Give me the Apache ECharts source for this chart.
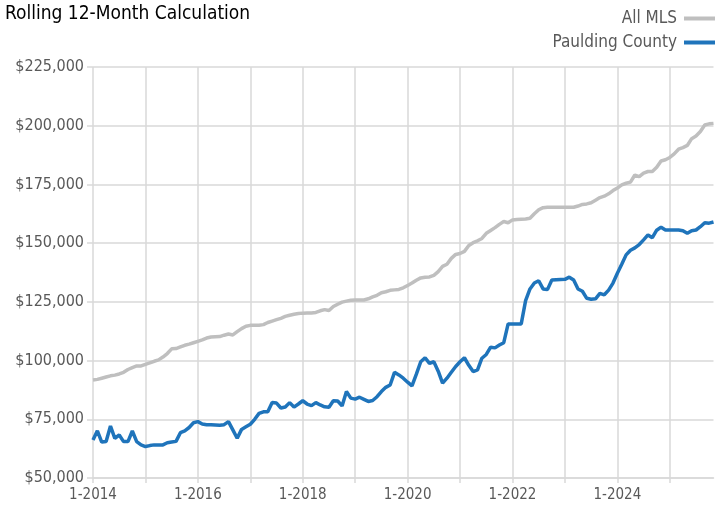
<!DOCTYPE html>
<html>
<head>
<meta charset="utf-8">
<script src="https://cdn.jsdelivr.net/npm/echarts@6/dist/echarts.min.js"></script>
<style>
  html, body { margin: 0; padding: 0; background: #fff; }
  #main { width: 715px; height: 512px; }
</style>
</head>
<body>
<div id="main"></div>
<script>
// monthly, 1-2014 .. 11-2025
var months = [];
for (var y = 2014; y <= 2025; y++) {
  for (var m = 1; m <= 12; m++) {
    if (y === 2025 && m > 11) break;
    months.push(m + '-' + y);
  }
}

var allMls = [
  91700, 92000, 92500, 93000, 93500, 93800, 94300, 95000, 96200, 97000, 97700, 97700,
  98400, 99000, 99700, 100300, 101500, 103000, 105000, 105100, 105800, 106500, 107000, 107600,
  108200, 108800, 109600, 110000, 110100, 110200, 110800, 111300, 110900, 112300, 113600, 114600,
  115000, 115000, 115000, 115300, 116200, 116800, 117400, 118000, 118800, 119300, 119700, 120000,
  120200, 120300, 120300, 120500, 121200, 121700, 121300, 123000, 124000, 124900, 125300, 125700,
  125800, 125800, 125800, 126300, 127100, 127800, 128900, 129300, 129900, 130100, 130300, 131000,
  132000, 133000, 134200, 135200, 135500, 135600, 136300, 137900, 140100, 141000, 143500, 145200,
  145600, 146500, 149000, 150200, 151000, 152000, 154200, 155400, 156600, 158000, 159200, 158700,
  159900, 160100, 160200, 160300, 160600, 162500, 164200, 165100, 165300, 165300, 165300, 165300,
  165300, 165300, 165300, 165800, 166500, 166700, 167200, 168300, 169400, 170000, 171000, 172400,
  173500, 174800, 175500, 176000, 179000, 178300, 179800, 180500, 180500, 182300, 185000, 185500,
  186500, 188000, 190000, 190700, 191600, 194500, 195600, 197500, 200300, 200800, 201000
];

var paulding = [
  66200, 70100, 65300, 65500, 72100, 66900, 68300, 65500, 65500, 70000, 65500, 64100,
  63400, 63800, 64100, 64100, 64100, 65000, 65300, 65600, 69300, 70100, 71500, 73500,
  74000, 73000, 72700, 72700, 72600, 72500, 72700, 74000, 70500, 66900, 70700, 71800,
  72900, 75000, 77500, 78200, 78200, 82100, 81900, 79800, 80200, 82100, 80200, 81500,
  82900, 81500, 80800, 82100, 81100, 80300, 80100, 82900, 82800, 80700, 86800, 84000,
  83600, 84400, 83500, 82600, 83000, 84600, 86800, 88600, 89600, 95000, 93900, 92500,
  90800, 89200, 94200, 99500, 101200, 98800, 99500, 95500, 90400, 92500, 95000, 97500,
  99500, 101200, 98000, 95300, 96000, 101000, 102600, 105700, 105400, 106600, 107600, 115600,
  115600, 115600, 115600, 125500, 130500, 133000, 134000, 130500, 130200, 134300, 134400, 134500,
  134600, 135500, 134300, 130500, 129500, 126500, 126100, 126300, 128600, 128000, 130000, 133000,
  137200, 141000, 145000, 147000, 148000, 149400, 151400, 153500, 152300, 155500, 156800, 155600,
  155600, 155600, 155600, 155300, 154200, 155300, 155600, 157000, 158700, 158500, 159000
];

var yTicks = { min: 50000, max: 225000, step: 25000 };

var font = '"DejaVu Sans Condensed", "Liberation Sans", sans-serif';

var myChart = echarts.init(document.getElementById('main'));
var option = {
  animation: false,
  title: {
    text: 'Rolling 12-Month Calculation',
    left: 0,
    top: 0,
    textStyle: { fontFamily: font, fontSize: 19, fontWeight: 'normal', color: '#000' }
  },
  legend: {
    orient: 'vertical',
    right: 0,
    top: 10,
    padding: 0,
    align: 'right',
    itemWidth: 31,
    itemHeight: 4,
    itemGap: 7,
    icon: 'rect',
    textStyle: { fontFamily: font, fontSize: 17, color: '#595959', padding: [0, 2, 0, 0] },
    data: ['All MLS', 'Paulding County']
  },
  grid: { left: 93, right: 1.5, top: 67, bottom: 34 },
  xAxis: {
    type: 'category',
    data: months,
    boundaryGap: false,
    axisLine: { lineStyle: { color: '#d9d9d9', width: 1.5 } },
    axisTick: { interval: 11, length: 5, lineStyle: { color: '#d9d9d9', width: 1.5 } },
    axisLabel: {
      interval: 23,
      margin: 10,
      fontFamily: font,
      fontSize: 15,
      color: '#595959'
    },
    splitLine: { show: true, interval: 11, lineStyle: { color: '#d9d9d9', width: 1.5 } }
  },
  yAxis: {
    type: 'value',
    min: yTicks.min,
    max: yTicks.max,
    interval: yTicks.step,
    axisLine: { show: false },
    axisTick: { show: true, length: 6, lineStyle: { color: '#d9d9d9', width: 1.5 } },
    axisLabel: {
      margin: 9,
      fontFamily: font,
      fontSize: 16,
      color: '#595959',
      formatter: function (v) { return '$' + v.toLocaleString('en-US'); }
    },
    splitLine: { lineStyle: { color: '#d9d9d9', width: 1.5 } }
  },
  series: [
    {
      name: 'All MLS',
      type: 'line',
      data: allMls,
      showSymbol: false,
      color: '#bfbfbf',
      lineStyle: { width: 3.5, color: '#bfbfbf' }
    },
    {
      name: 'Paulding County',
      type: 'line',
      data: paulding,
      showSymbol: false,
      color: '#1f74bb',
      lineStyle: { width: 3.5, color: '#1f74bb' }
    }
  ]
};
option && myChart.setOption(option);
</script>
</body>
</html>
